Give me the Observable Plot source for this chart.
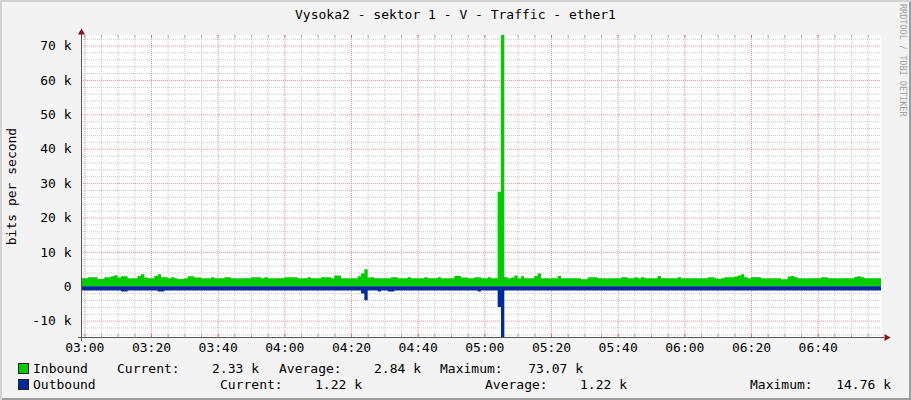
<!DOCTYPE html>
<html><head><meta charset="utf-8">
<script src="https://cdn.jsdelivr.net/npm/d3@7"></script>
<script src="https://cdn.jsdelivr.net/npm/@observablehq/plot@0.6"></script>
<style>
html,body{margin:0;padding:0;background:#f3f3f3;}
#chart{position:relative;width:911px;height:400px;background:#f3f3f3;overflow:hidden;font-family:"DejaVu Sans Mono",monospace;font-size:13px;color:#000;box-shadow:inset 2px 2px 0 #d2d2d2, inset -2px -2px 0 #9d9d9d;}
#title{height:28px;line-height:30px;text-align:center;font-size:13px;}
#plot svg{display:block;}
.lg{position:absolute;white-space:pre;line-height:15px;font-size:13px;}
.box{position:absolute;width:9px;height:9px;border:1px solid #222;}
#wm{position:absolute;left:898px;top:4px;writing-mode:vertical-rl;font-size:8.5px;color:#a0a0a0;}
</style></head>
<body>
<div id="chart"><div id="title"></div><div id="plot"></div><div id="wm"></div></div>
<script>
// ---------------- data ----------------
const titleText = "Vysoka2 - sektor 1 - V - Traffic - ether1";
const yAxisLabel = "bits per second";
const watermark = "RRDTOOL / TOBI OETIKER";
const seriesNames = ["Inbound", "Outbound"];
const seriesColors = ["#00cc00", "#002a97"];
const currentK = [2.33, 1.22];
const averageK = [2.84, 1.22];
const maximumK = [73.07, 14.76];
const startTime = "02:59";        // first sample (1-minute steps)
const endTime = "06:59";
const xTickLabels = ["03:00","03:20","03:40","04:00","04:20","04:40","05:00","05:20","05:40","06:00","06:20","06:40"];
const yTickValues = [-10000,0,10000,20000,30000,40000,50000,60000,70000];

// inbound, kbit/s, one value per minute
const inboundK = [
 2.33,2.33,2.62,2.62,2.62,2.14,2.14,2.62,2.62,2.92,
 3.20,2.52,2.92,2.92,2.33,2.33,2.33,3.00,3.50,2.52,
 2.33,2.33,3.00,3.50,2.62,2.62,2.33,2.62,2.33,2.14,
 2.14,2.33,2.92,2.92,2.52,2.52,2.33,2.33,2.33,2.62,
 2.33,2.33,2.33,2.62,2.62,2.33,2.33,2.33,2.33,2.33,
 2.33,2.62,2.62,2.62,2.33,2.62,2.33,2.33,2.33,2.33,
 2.33,2.62,2.62,2.62,2.62,2.33,2.33,2.33,2.62,2.33,
 2.33,2.33,2.62,2.62,2.62,2.33,3.10,3.10,2.33,2.33,
 2.33,2.33,2.33,2.92,3.70,4.96,2.52,2.62,2.33,2.33,
 2.33,2.33,2.33,2.62,2.62,2.33,2.33,2.33,2.62,2.33,
 2.33,2.33,2.33,2.62,2.33,2.33,2.33,2.62,2.33,2.33,
 2.33,2.33,3.00,3.00,2.52,2.52,2.33,2.33,2.62,2.62,
 2.33,2.33,2.62,2.33,2.33,27.50,73.07,2.62,2.33,2.52,
 3.10,2.33,2.92,2.33,2.33,2.33,3.00,3.70,2.33,2.33,
 2.33,2.33,2.33,3.00,2.33,2.33,2.33,2.33,2.33,2.33,
 2.04,2.04,2.62,2.62,2.62,2.33,2.33,2.33,2.33,2.33,
 2.33,2.33,2.62,2.62,2.33,2.33,2.62,2.33,2.62,2.33,
 2.33,2.33,2.33,3.00,2.33,2.33,2.33,2.33,2.33,2.62,
 2.33,2.33,2.33,2.33,2.33,2.33,2.33,2.33,2.62,2.62,
 2.33,2.14,2.33,2.62,2.62,2.62,2.80,3.10,3.50,2.62,
 2.33,2.62,2.62,2.62,2.33,2.33,2.33,2.33,2.33,2.33,
 2.04,2.04,2.80,3.00,2.62,2.33,2.33,2.33,2.33,2.33,
 2.33,2.33,2.62,2.62,2.33,2.33,2.33,2.33,2.33,2.33,
 2.33,2.33,2.72,2.92,2.62,2.33,2.33,2.33,2.33,2.33
];
// outbound, kbit/s, one value per minute (drawn below zero)
const outboundK = [
 1.22,1.22,1.22,1.22,1.22,1.22,1.22,1.22,1.22,1.22,
 1.22,1.22,1.50,1.50,1.22,1.22,1.22,1.22,1.22,1.22,
 1.22,1.22,1.22,1.50,1.50,1.22,1.22,1.22,1.22,1.22,
 1.22,1.22,1.22,1.22,1.22,1.22,1.22,1.22,1.22,1.22,
 1.22,1.22,1.22,1.22,1.22,1.22,1.22,1.22,1.22,1.22,
 1.22,1.22,1.22,1.22,1.22,1.22,1.22,1.22,1.22,1.22,
 1.22,1.22,1.22,1.22,1.22,1.22,1.22,1.22,1.22,1.22,
 1.22,1.22,1.22,1.22,1.22,1.22,1.22,1.22,1.22,1.22,
 1.22,1.22,1.22,1.22,2.10,4.10,1.22,1.22,1.22,1.50,
 1.22,1.22,1.50,1.50,1.22,1.22,1.22,1.22,1.22,1.22,
 1.22,1.22,1.22,1.22,1.22,1.22,1.22,1.22,1.22,1.22,
 1.22,1.22,1.22,1.22,1.22,1.22,1.22,1.22,1.22,1.50,
 1.22,1.22,1.22,1.22,1.22,6.00,14.76,1.22,1.22,1.22,
 1.22,1.22,1.22,1.22,1.22,1.22,1.22,1.22,1.22,1.22,
 1.22,1.22,1.22,1.22,1.22,1.22,1.22,1.22,1.22,1.22,
 1.22,1.22,1.22,1.22,1.22,1.22,1.22,1.22,1.22,1.22,
 1.22,1.22,1.22,1.22,1.22,1.22,1.22,1.22,1.22,1.22,
 1.22,1.22,1.22,1.22,1.22,1.22,1.22,1.22,1.22,1.22,
 1.22,1.22,1.22,1.22,1.22,1.22,1.22,1.22,1.22,1.22,
 1.22,1.22,1.22,1.22,1.22,1.22,1.22,1.22,1.22,1.22,
 1.22,1.22,1.22,1.22,1.22,1.22,1.22,1.22,1.22,1.22,
 1.22,1.22,1.22,1.22,1.22,1.22,1.22,1.22,1.22,1.22,
 1.22,1.22,1.22,1.22,1.22,1.22,1.22,1.22,1.22,1.22,
 1.22,1.22,1.22,1.22,1.22,1.22,1.22,1.22,1.22,1.22
];

// ---------------- build ----------------
const hm = s => { const [h, m] = s.split(":").map(Number); return new Date(Date.UTC(2024, 0, 1, h, m)); };
const t0 = hm(startTime), t1 = hm(endTime);
const rows = inboundK.map((v, i) => ({t: d3.utcMinute.offset(t0, i), inb: v * 1000, out: -outboundK[i] * 1000}));
rows.push({t: t1, inb: rows[rows.length - 1].inb, out: rows[rows.length - 1].out});

const xDomain = [t0, t1];
const yDomain = [-maximumK[1] * 1000, maximumK[0] * 1000];
const majorX = xTickLabels.map(hm);
const majorSet = new Set(majorX.map(d => +d));
const minorX = d3.utcMinute.every(5).range(t0, t1).filter(d => !majorSet.has(+d));
const minorY = d3.range(Math.ceil(yDomain[0] / 2000) * 2000, yDomain[1], 2000).filter(v => v % 10000 !== 0);

document.getElementById("title").textContent = titleText;
document.getElementById("wm").textContent = watermark;

const minorColor = "#c8c8c8", majorColor = "#f09090", axisColor = "#555", arrowColor = "#8b1515";
const minorTick = "#b0b0b0", majorTick = "#e07070";

const chart = Plot.plot({
  width: 911, height: 330,
  marginLeft: 81, marginRight: 30, marginTop: 7, marginBottom: 21,
  style: {background: "transparent", fontFamily: "'DejaVu Sans Mono', monospace", fontSize: "13px", color: "#000", overflow: "visible"},
  x: {type: "utc", domain: xDomain},
  y: {domain: yDomain},
  marks: [
    Plot.frame({fill: "#ffffff", stroke: "none"}),
    Plot.ruleY(minorY, {stroke: minorColor, strokeDasharray: "1,1"}),
    Plot.ruleX(minorX, {stroke: minorColor, strokeDasharray: "1,1"}),
    Plot.ruleY(yTickValues, {stroke: majorColor, strokeDasharray: "1,1"}),
    Plot.ruleX(majorX, {stroke: majorColor, strokeDasharray: "1,1"}),
    // short solid tick marks at the top and bottom edges (rrdtool style)
    Plot.ruleX(minorX, {y1: yDomain[0], y2: yDomain[0], insetTop: -3, stroke: minorTick}),
    Plot.ruleX(minorX, {y1: yDomain[1], y2: yDomain[1], insetBottom: -3, stroke: minorTick}),
    Plot.ruleX(majorX, {y1: yDomain[0], y2: yDomain[0], insetTop: -3, stroke: majorTick}),
    Plot.ruleX(majorX, {y1: yDomain[1], y2: yDomain[1], insetBottom: -3, stroke: majorTick}),
    Plot.areaY(rows, {x: "t", y: "inb", fill: seriesColors[0], curve: "step-after"}),
    Plot.areaY(rows, {x: "t", y: "out", fill: seriesColors[1], curve: "step-after"}),
    Plot.ruleX([xDomain[0]], {stroke: axisColor, insetTop: -3, insetBottom: -4}),
    Plot.ruleY([yDomain[0]], {stroke: axisColor, insetLeft: -3, insetRight: -3}),
    Plot.dot([{x: xDomain[0], y: yDomain[1]}], {x: "x", y: "y", symbol: "triangle", r: 2.6, fill: arrowColor, stroke: "none", dy: -3}),
    Plot.dot([{x: xDomain[1], y: yDomain[0]}], {x: "x", y: "y", symbol: "triangle", r: 2.6, fill: arrowColor, stroke: "none", rotate: 90, dx: 5}),
    Plot.axisY(yTickValues, {anchor: "left", tickSize: 0, tickPadding: 10, tickFormat: d => d === 0 ? "0" : `${d / 1000} k`, label: yAxisLabel, labelAnchor: "center", labelArrow: "none", labelOffset: 75}),
    Plot.axisX(majorX, {anchor: "bottom", tickSize: 0, tickPadding: 5, tickFormat: d3.utcFormat("%H:%M"), label: null})
  ]
});
document.getElementById("plot").appendChild(chart);

// ---------------- legend ----------------
const root = document.getElementById("chart");
const add = (cls, text, css) => { const e = document.createElement("div"); e.className = cls; e.textContent = text; Object.assign(e.style, css); root.appendChild(e); };
const rowLayout = [
  {y: 368, cur: [117, 259], avg: [279, 421], max: [440, 583]},
  {y: 384, cur: [220, 362], avg: [485, 627], max: [750, 891]}
];
const fmt = v => `${v.toFixed(2)} k`;
seriesNames.forEach((name, i) => {
  const L = rowLayout[i], top = (L.y - 7.5) + "px";
  add("box", "", {left: "18px", top: (L.y - 5) + "px", background: seriesColors[i]});
  add("lg", name, {left: "33px", top});
  add("lg", "Current:", {left: L.cur[0] + "px", top});
  add("lg", fmt(currentK[i]), {right: (911 - L.cur[1]) + "px", top});
  add("lg", "Average:", {left: L.avg[0] + "px", top});
  add("lg", fmt(averageK[i]), {right: (911 - L.avg[1]) + "px", top});
  add("lg", "Maximum:", {left: L.max[0] + "px", top});
  add("lg", fmt(maximumK[i]), {right: (911 - L.max[1]) + "px", top});
});
</script>
</body></html>
